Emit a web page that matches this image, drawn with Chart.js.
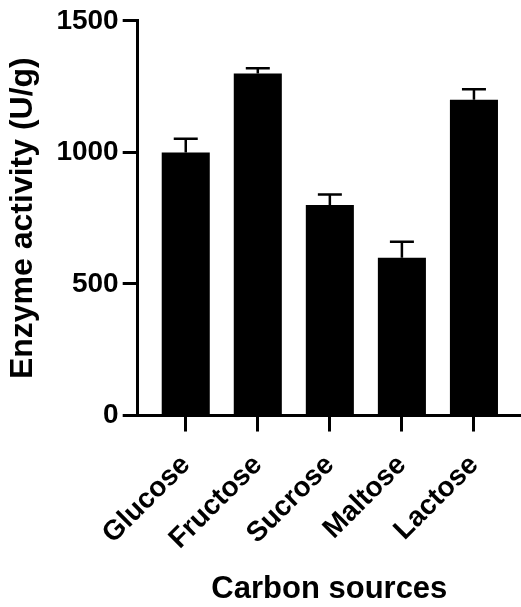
<!DOCTYPE html>
<html lang="en">
<head>
	<meta charset="UTF-8">
	<title>Enzyme activity by carbon source</title>
	<style>
		html, body { margin: 0; padding: 0; background: #fff; }
		canvas { display: block; }
	</style>
</head>
<body>
	<canvas id="mainChart" width="521" height="607" style="width:521px;height:607px;"></canvas>
	<script src="https://cdn.jsdelivr.net/npm/chart.js@4"></script>
	<script>
		const categories = ["Glucose", "Fructose", "Sucrose", "Maltose", "Lactose"]
		const activity = [1000, 1300, 800, 600, 1200]
		const errors = [52, 20, 40, 60, 40]
		const yTicks = [0, 500, 1000, 1500]

		const FONT = "'Liberation Sans', Arial, Helvetica, sans-serif"

		// draws the SD caps above each bar
		const errorBars = {
			id: "errorBars",
			afterDatasetsDraw(chart) {
				const ctx = chart.ctx
				const y = chart.scales.y
				const meta = chart.getDatasetMeta(0)
				ctx.save()
				ctx.strokeStyle = "#000"
				ctx.lineWidth = 2.5
				meta.data.forEach((bar, i) => {
					const top = y.getPixelForValue(activity[i])
					const cap = y.getPixelForValue(activity[i] + errors[i])
					ctx.beginPath()
					ctx.moveTo(bar.x, top)
					ctx.lineTo(bar.x, cap)
					ctx.moveTo(bar.x - 12, cap)
					ctx.lineTo(bar.x + 12, cap)
					ctx.stroke()
				})
				ctx.restore()
			}
		}

		new Chart(document.getElementById("mainChart"), {
			type: "bar",
			data: {
				datasets: [{
					data: activity.map((v, i) => ({x: i, y: v})),
					backgroundColor: "#000",
					borderWidth: 0,
					barPercentage: 0.667,
					categoryPercentage: 1
				}]
			},
			options: {
				responsive: false,
				devicePixelRatio: 1,
				animation: false,
				layout: {padding: {top: 8, right: 0, bottom: 0, left: 4}},
				plugins: {legend: {display: false}, tooltip: {enabled: false}},
				scales: {
					x: {
						type: "linear",
						offset: false,
						min: -0.667,
						max: 4.653,
						afterBuildTicks: scale => { scale.ticks = categories.map((c, i) => ({value: i})) },
						border: {display: true, width: 3, color: "#000"},
						grid: {offset: false, drawOnChartArea: false, tickLength: 16, tickWidth: 3, tickColor: "#000"},
						ticks: {
							includeBounds: false,
							minRotation: 45,
							maxRotation: 45,
							padding: 17,
							color: "#000",
							font: {family: FONT, size: 28, weight: "bold"},
							callback: value => categories[value]
						},
						title: {
							display: true,
							text: "Carbon sources",
							color: "#000",
							padding: {top: 0, bottom: 0},
							font: {family: FONT, size: 31, weight: "bold", lineHeight: 1.1}
						}
					},
					y: {
						min: 0,
						max: 1500,
						afterBuildTicks: scale => { scale.ticks = yTicks.map(v => ({value: v})) },
						border: {display: true, width: 3, color: "#000"},
						grid: {drawOnChartArea: false, tickLength: 15, tickWidth: 3, tickColor: "#000"},
						ticks: {
							padding: 4,
							color: "#000",
							font: {family: FONT, size: 28, weight: "bold"},
							callback: value => String(value)
						},
						title: {
							display: true,
							text: "Enzyme activity (U/g)",
							color: "#000",
							padding: {top: 0, bottom: 10},
							font: {family: FONT, size: 32, weight: "bold"}
						}
					}
				}
			},
			plugins: [errorBars]
		})
	</script>
</body>
</html>
